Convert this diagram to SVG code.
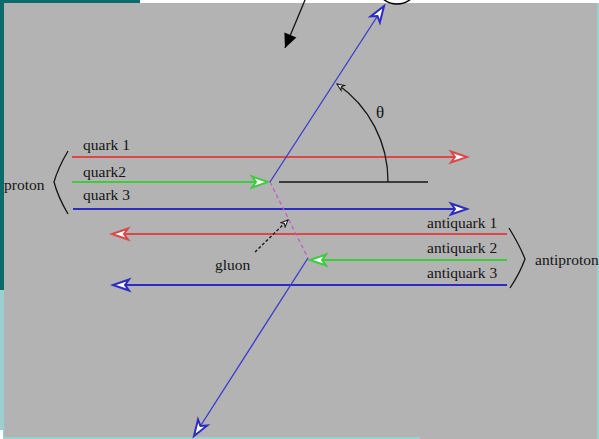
<svg xmlns="http://www.w3.org/2000/svg" width="599" height="439" viewBox="0 0 599 439">
<style>
text{font-family:"Liberation Serif","Times New Roman",serif;font-size:15.5px;fill:#151515}
.q{fill:none;stroke-width:2}
.r{stroke:#dc4848}
.g{stroke:#3ccc3c}
.b{stroke:#2c2cc4}
.bd{stroke:#3a3ad0;stroke-width:1.3;fill:none}
.k{stroke:#151515;fill:none;stroke-width:1.3}
</style>
<defs>
<marker id="ar" markerUnits="userSpaceOnUse" markerWidth="22" markerHeight="16" viewBox="-19 -8 22 16" refX="0" refY="0" orient="auto"><path d="M0,0 L-16,-5.5 L-12,0 L-16,5.5 Z" fill="#fff" stroke="#dc4848" stroke-width="2"/></marker>
<marker id="ag" markerUnits="userSpaceOnUse" markerWidth="22" markerHeight="16" viewBox="-19 -8 22 16" refX="0" refY="0" orient="auto"><path d="M0,0 L-16,-5.5 L-12,0 L-16,5.5 Z" fill="#fff" stroke="#3ccc3c" stroke-width="2"/></marker>
<marker id="ab" markerUnits="userSpaceOnUse" markerWidth="22" markerHeight="16" viewBox="-19 -8 22 16" refX="0" refY="0" orient="auto"><path d="M0,0 L-16,-5.5 L-12,0 L-16,5.5 Z" fill="#fff" stroke="#2c2cc4" stroke-width="2"/></marker>
<marker id="ak" markerUnits="userSpaceOnUse" markerWidth="18" markerHeight="16" viewBox="-16 -8 18 16" refX="0" refY="0" orient="auto"><path d="M0,0 L-14,-6.5 L-14,6.5 Z" fill="#000"/></marker>
<marker id="as" markerUnits="userSpaceOnUse" markerWidth="10" markerHeight="8" viewBox="-8 -4 10 8" refX="0" refY="0" orient="auto"><path d="M0,0 L-7,-3 L-5,0 L-7,3 Z" fill="#fff" stroke="#151515" stroke-width="1"/></marker>
</defs>
<!-- slide frame -->
<rect x="0" y="0" width="599" height="439" fill="#b3b3b3"/>
<rect x="0" y="0" width="140" height="3" fill="#0b6b6b"/>
<rect x="140" y="0" width="459" height="3" fill="#ffffff"/>
<rect x="0" y="0" width="4" height="290" fill="#0b6b6b"/>
<rect x="0" y="290" width="4" height="149" fill="#9ccfcf"/>
<rect x="0" y="437" width="420" height="2" fill="#9ccfcf"/>
<rect x="0" y="430" width="3" height="9" fill="#ffffff"/>
<rect x="597" y="3" width="2" height="436" fill="#9ccfcf"/>
<ellipse cx="397" cy="-14" rx="20" ry="18" fill="none" stroke="#000" stroke-width="1.5"/>

<g id="connectors">
<line class="k" x1="305" y1="0" x2="285" y2="48" stroke-width="2" marker-end="url(#ak)"/>
<line class="q r" x1="72" y1="157" x2="467" y2="157" marker-end="url(#ar)"/>
<line class="q g" x1="72" y1="182" x2="268" y2="182" marker-end="url(#ag)"/>
<line class="q b" x1="73" y1="209" x2="467" y2="209" marker-end="url(#ab)"/>
<line class="q r" x1="507" y1="234" x2="112" y2="234" marker-end="url(#ar)"/>
<line class="q g" x1="507" y1="260" x2="310" y2="260" marker-end="url(#ag)"/>
<line class="q b" x1="507" y1="285" x2="113" y2="285" marker-end="url(#ab)"/>
<line class="bd" x1="270" y1="182" x2="384" y2="6" marker-end="url(#ab)"/>
<line class="bd" x1="308" y1="258" x2="194" y2="436" marker-end="url(#ab)"/>
<line x1="270" y1="182" x2="308" y2="258" stroke="#c060c0" stroke-width="1.3" stroke-dasharray="4,3"/>
<line class="k" x1="279" y1="182" x2="428" y2="182"/>
<path class="k" d="M388,182 A118,118 0 0 0 337,84" marker-end="url(#as)"/>
<line class="k" x1="255" y1="252" x2="288" y2="220" stroke-dasharray="3,2" marker-end="url(#as)"/>
</g>

<g id="proton">
<path class="k" d="M68,151 Q58,168 54,182 Q58,197 68,214"/>
<text x="4" y="190">proton</text>
</g>
<g id="quark1"><text x="83" y="150">quark 1</text></g>
<g id="quark2"><text x="83" y="177">quark2</text></g>
<g id="quark3"><text x="83" y="200">quark 3</text></g>
<g id="antiproton">
<path class="k" d="M509,228 Q520,246 525,259 Q520,273 510,288"/>
<text x="535" y="265">antiproton</text>
</g>
<g id="antiquark1"><text x="427" y="228">antiquark 1</text></g>
<g id="antiquark2"><text x="427" y="253">antiquark 2</text></g>
<g id="antiquark3"><text x="427" y="278">antiquark 3</text></g>
<g id="gluon"><text x="215" y="270">gluon</text></g>
<g id="theta"><text x="376" y="118" style="font-size:17px">θ</text></g>
</svg>
